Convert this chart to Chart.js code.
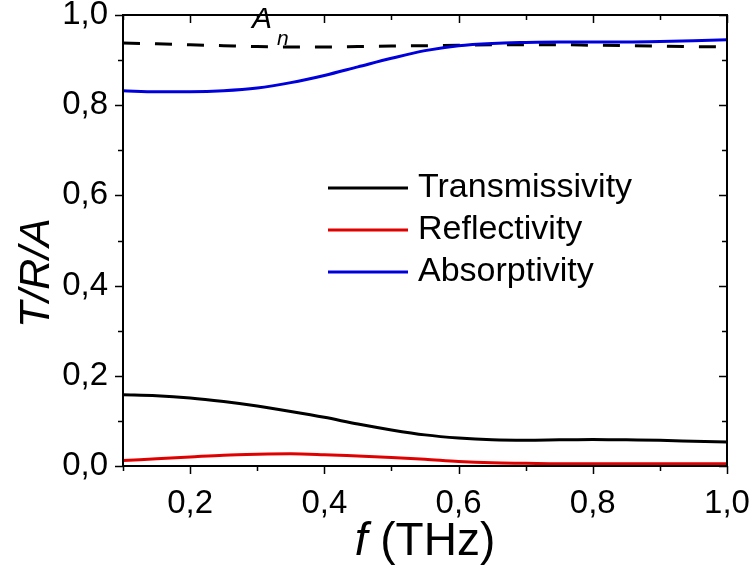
<!DOCTYPE html>
<html>
<head>
<meta charset="utf-8">
<script src="https://cdn.jsdelivr.net/npm/chart.js@4/dist/chart.umd.min.js"></script>
<style>
html,body{margin:0;padding:0;background:#fff;}
#wrap{width:754px;height:572px;position:relative;}
</style>
</head>
<body>
<div id="wrap"><canvas id="c" width="754" height="572"></canvas></div>
<script>
const freq = [0.1,0.15,0.2,0.25,0.3,0.35,0.4,0.45,0.5,0.55,0.6,0.65,0.7,0.75,0.8,0.85,0.9,0.95,1.0];
const transmissivity = [0.158,0.156,0.151,0.143,0.133,0.121,0.108,0.093,0.080,0.069,0.062,0.058,0.057,0.058,0.059,0.058,0.057,0.055,0.053];
const reflectivity = [0.012,0.016,0.020,0.024,0.026,0.027,0.025,0.022,0.019,0.015,0.010,0.007,0.006,0.005,0.005,0.005,0.005,0.005,0.005];
const absorptivity = [0.832,0.830,0.830,0.832,0.838,0.850,0.866,0.885,0.904,0.921,0.932,0.937,0.939,0.940,0.940,0.940,0.941,0.943,0.945];
const absorptivityN = [0.938,0.936,0.934,0.932,0.930,0.929,0.929,0.930,0.931,0.932,0.933,0.934,0.934,0.934,0.933,0.932,0.931,0.930,0.929];
const seriesNames = ["Transmissivity","Reflectivity","Absorptivity"];
const xTickValues = [0.1,0.2,0.3,0.4,0.5,0.6,0.7,0.8,0.9,1.0];
const yTickValues = [0.0,0.1,0.2,0.3,0.4,0.5,0.6,0.7,0.8,0.9,1.0];

const FONT = "'Liberation Sans', Arial, sans-serif";
const pts = arr => freq.map((f,i)=>({x:f,y:arr[i]}));
const fmt = v => (Math.round(v*10)/10).toFixed(1).replace('.',',');
const isMajor = v => Math.round(v*10) % 2 === 0;

const framePlugin = {
  id:'frame',
  afterDraw(chart){
    const ctx = chart.ctx, a = chart.chartArea;
    const xs = chart.scales.x, ys = chart.scales.y;
    ctx.save();
    ctx.strokeStyle = '#000';
    ctx.lineWidth = 2;
    ctx.strokeRect(a.left, a.top, a.right-a.left, a.bottom-a.top);
    ctx.lineWidth = 1.5;
    ctx.beginPath();
    xTickValues.forEach(v=>{
      const px = Math.round(xs.getPixelForValue(v))+0.5;
      const L = isMajor(v) ? 8 : 5;
      ctx.moveTo(px, a.bottom); ctx.lineTo(px, a.bottom+L);
      ctx.moveTo(px, a.top); ctx.lineTo(px, a.top+L);
    });
    yTickValues.forEach(v=>{
      const py = Math.round(ys.getPixelForValue(v))+0.5;
      const L = isMajor(v) ? 8 : 5;
      ctx.moveTo(a.left, py); ctx.lineTo(a.left-L, py);
      ctx.moveTo(a.right, py); ctx.lineTo(a.right-L, py);
    });
    ctx.stroke();

    // legend
    const ds = chart.data.datasets;
    const rows = [188, 230, 272];
    ctx.font = "34px " + FONT;
    ctx.textBaseline = 'middle';
    ctx.textAlign = 'left';
    for(let i=0;i<3;i++){
      ctx.strokeStyle = ds[i].borderColor;
      ctx.lineWidth = 3;
      ctx.beginPath();
      ctx.moveTo(328, rows[i]); ctx.lineTo(408, rows[i]);
      ctx.stroke();
      ctx.fillStyle = '#000';
      ctx.fillText(seriesNames[i], 418, rows[i]);
    }

    // A_n label
    ctx.fillStyle = '#000';
    ctx.textBaseline = 'alphabetic';
    ctx.font = "italic 30px " + FONT;
    ctx.fillText("A", 252, 28);
    ctx.font = "italic 21px " + FONT;
    ctx.fillText("n", 277, 45);

    // x title
    ctx.font = "italic 46px " + FONT;
    const w1 = ctx.measureText("f").width;
    ctx.font = "46px " + FONT;
    const w2 = ctx.measureText(" (THz)").width;
    const cx = (a.left + a.right)/2;
    let sx = cx - (w1+w2)/2;
    ctx.font = "italic 46px " + FONT;
    ctx.fillText("f", sx, 555);
    ctx.font = "46px " + FONT;
    ctx.fillText(" (THz)", sx + w1, 555);

    // y title
    ctx.save();
    ctx.translate(49, 273);
    ctx.rotate(-Math.PI/2);
    ctx.font = "italic 43px " + FONT;
    ctx.textAlign = 'center';
    ctx.textBaseline = 'alphabetic';
    ctx.fillText("T/R/A", 0, 0);
    ctx.restore();
    ctx.restore();
  }
};

const noPad = s => { s.paddingLeft = 0; s.paddingRight = 0; s.paddingTop = 0; s.paddingBottom = 0; };

new Chart(document.getElementById('c'), {
  type:'line',
  data:{
    datasets:[
      {label:seriesNames[0], data:pts(transmissivity), borderColor:'#000000', borderWidth:3},
      {label:seriesNames[1], data:pts(reflectivity), borderColor:'#e00000', borderWidth:3},
      {label:seriesNames[2], data:pts(absorptivity), borderColor:'#0000dd', borderWidth:3},
      {label:'An', data:pts(absorptivityN), borderColor:'#000000', borderWidth:3, borderDash:[17,15]}
    ]
  },
  options:{
    responsive:false,
    animation:false,
    devicePixelRatio:1,
    layout:{padding:{top:15,right:27,left:0,bottom:0}},
    elements:{point:{radius:0}, line:{tension:0.4, cubicInterpolationMode:'monotone', fill:false}},
    plugins:{legend:{display:false}, tooltip:{enabled:false}},
    scales:{
      x:{
        type:'linear', min:0.1, max:1.0,
        afterFit(s){ s.height = 106; noPad(s); },
        afterBuildTicks(s){ s.ticks = xTickValues.map(v=>({value:v})); },
        grid:{display:false, drawTicks:false},
        border:{display:false},
        ticks:{autoSkip:false, maxRotation:0, padding:18, color:'#000',
          font:{family:FONT, size:33},
          callback:(v)=> isMajor(v) ? fmt(v) : ''}
      },
      y:{
        type:'linear', min:0, max:1.0,
        afterFit(s){ s.width = 123; noPad(s); },
        afterBuildTicks(s){ s.ticks = yTickValues.map(v=>({value:v})); },
        grid:{display:false, drawTicks:false},
        border:{display:false},
        ticks:{autoSkip:false, padding:15, color:'#000',
          font:{family:FONT, size:33},
          callback:(v)=> isMajor(v) ? fmt(v) : ''}
      }
    }
  },
  plugins:[framePlugin]
});
</script>
</body>
</html>
